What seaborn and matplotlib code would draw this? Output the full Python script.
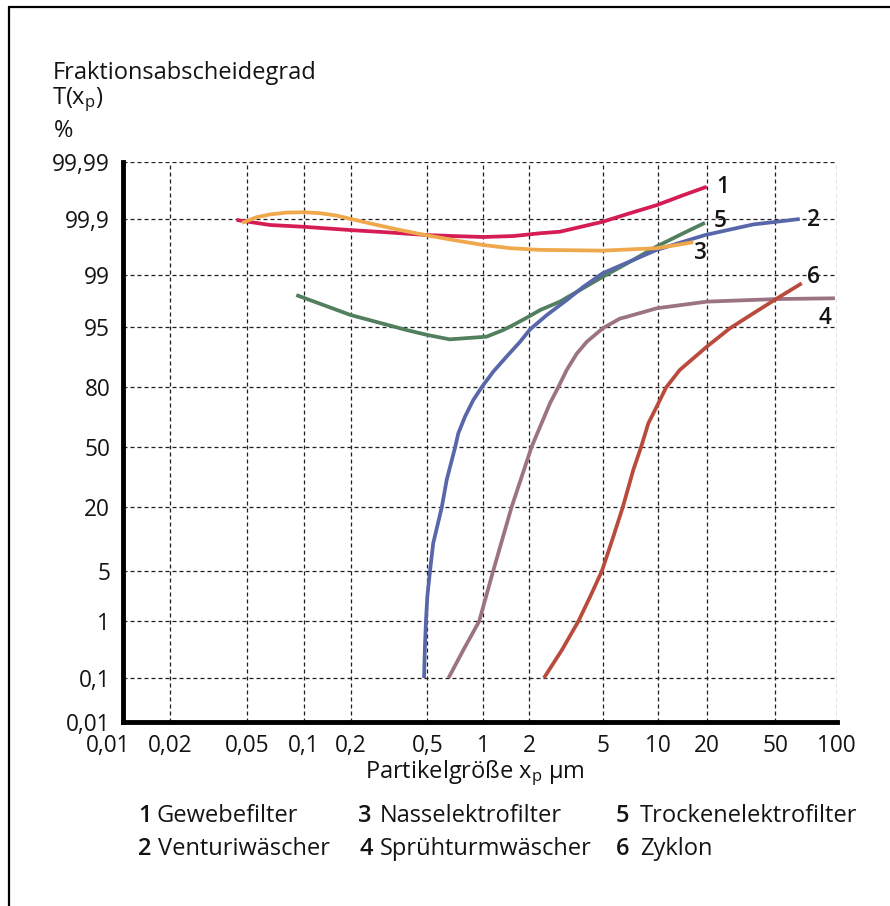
import numpy as np
import pandas as pd
import matplotlib
matplotlib.use("Agg")
import matplotlib.pyplot as plt
import seaborn as sns
from matplotlib.lines import Line2D
from matplotlib.transforms import ScaledTranslation

# ---------------- data ----------------
curve_ids = ["1", "2", "3", "4", "5", "6"]
curve_names = ["Gewebefilter", "Venturiwäscher", "Nasselektrofilter",
               "Sprühturmwäscher", "Trockenelektrofilter", "Zyklon"]

# 1 Gewebefilter
c1_x = [0.044, 0.066, 0.1, 0.2, 0.308, 0.5, 0.69, 1.0, 1.57, 2.29, 2.93, 5.0, 7.03, 9.8, 14.3, 20.0]
c1_y = [99.896, 99.872, 99.862, 99.842, 99.827, 99.806, 99.798, 99.79, 99.798, 99.82, 99.831,
        99.888, 99.921, 99.943, 99.962, 99.973]

# 2 Venturiwäscher
c2_x = [0.481, 0.486, 0.492, 0.5, 0.517, 0.538, 0.598, 0.636, 0.707, 0.734, 0.797, 0.883, 0.98,
        1.163, 1.42, 1.74, 2.02, 2.49, 3.19, 3.93, 5.0, 9.8, 19.5, 37.4, 51, 66]
c2_y = [0.1, 0.36, 1.0, 2.2, 5.0, 9.4, 20, 32, 50, 57.8, 66.8, 74.8, 80,
        85.7, 89.8, 92.8, 94.67, 96.5, 97.8, 98.55, 99.07, 99.643, 99.806, 99.875, 99.888, 99.9]

# 3 Nasselektrofilter
c3_x = [0.047, 0.056, 0.066, 0.081, 0.1, 0.127, 0.162, 0.206, 0.252, 0.347, 0.458, 0.69, 1.0,
        1.5, 2.29, 2.93, 5.0, 9.8, 13.0, 16.5]
c3_y = [99.883, 99.907, 99.917, 99.923, 99.924, 99.921, 99.913, 99.898, 99.88, 99.847, 99.814,
        99.762, 99.708, 99.667, 99.643, 99.64, 99.632, 99.667, 99.708, 99.74]

# 4 Sprühturmwäscher
c4_x = [0.65, 0.78, 0.95, 1.16, 1.53, 2.06, 2.29, 2.59, 2.87, 3.19, 3.62, 4.1, 5.0, 6.2, 6.74,
        9.8, 20, 51, 98]
c4_y = [0.1, 0.31, 1.0, 5.0, 20, 50, 61.5, 73.4, 80, 86.2, 90.5, 92.8, 94.8, 96.1, 96.3,
        97.16, 97.69, 97.87, 97.92]

# 5 Trockenelektrofilter
c5_x = [0.091, 0.2, 0.39, 0.5, 0.66, 1.05, 1.35, 1.57, 1.97, 2.29, 2.93, 5.0, 7.03, 9.8, 14.3, 19.5]
c5_y = [98.12, 96.5, 94.58, 93.89, 93.21, 93.63, 94.58, 95.25, 96.3, 97.0, 97.69, 98.94, 99.42,
        99.69, 99.82, 99.883]

# 6 Zyklon
c6_x = [2.4, 3.0, 3.69, 4.27, 4.95, 5.7, 6.42, 7.32, 8.08, 8.83, 9.8, 11.2, 13.6, 20, 27.3, 37.4, 51, 67.5]
c6_y = [0.1, 0.31, 1.0, 2.2, 5.0, 10.8, 20, 37, 50, 63.3, 71.8, 80, 86.2, 91.9, 94.8, 96.68, 97.9, 98.7]

x_ticks = [0.01, 0.02, 0.05, 0.1, 0.2, 0.5, 1, 2, 5, 10, 20, 50, 100]
x_tick_labels = ["0,01", "0,02", "0,05", "0,1", "0,2", "0,5", "1", "2", "5", "10", "20", "50", "100"]
y_ticks = [0.01, 0.1, 1, 5, 20, 50, 80, 95, 99, 99.9, 99.99]
y_tick_labels = ["0,01", "0,1", "1", "5", "20", "50", "80", "95", "99", "99,9", "99,99"]

# ---------------- scale calibration (grid spacing of the printed paper) ----------------
X_GRID_POS = np.array([0, 47.3, 124.6, 181.3, 228, 304.6, 360.6, 406.6, 480, 535.6, 584, 652.3, 714])
Y_GRID_POS = np.array([0, 43.7, 100.4, 150.7, 214.4, 275, 334.4, 395, 446.7, 502.7, 559.4])
LX = np.log10(np.array(x_ticks, float))
yt = np.array(y_ticks, float)
LY = np.log(yt / (100 - yt))


def xf(v):
    v = np.clip(np.asarray(v, float), 1e-9, None)
    return np.interp(np.log10(v), LX, X_GRID_POS)


def xi(p):
    return 10 ** np.interp(np.asarray(p, float), X_GRID_POS, LX)


def yf(v):
    v = np.clip(np.asarray(v, float), 1e-9, 100 - 1e-9)
    return np.interp(np.log(v / (100 - v)), LY, Y_GRID_POS)


def yi(p):
    l = np.interp(np.asarray(p, float), Y_GRID_POS, LY)
    return 100 / (1 + np.exp(-l))


# ---------------- style ----------------
sns.set_style("white")
FONT = "Open Sans"
plt.rcParams["font.family"] = [FONT, "DejaVu Sans"]
plt.rcParams["mathtext.fontset"] = "custom"
plt.rcParams["mathtext.rm"] = FONT
plt.rcParams["mathtext.it"] = FONT + ":italic"
TXT = "#141414"
FS = 17          # body text
FT = 16.3        # tick labels

W, H = 890, 906
fig = plt.figure(figsize=(W / 100, H / 100), dpi=100)
ax_l, ax_r, ax_t, ax_b = 122.7, 836.7, 162.3, 721.7
ax = fig.add_axes([ax_l / W, 1 - ax_b / H, (ax_r - ax_l) / W, (ax_b - ax_t) / H])
ax.set_xscale("function", functions=(xf, xi))
ax.set_yscale("function", functions=(yf, yi))

palette = {"1": "#D51C55", "2": "#5767AA", "3": "#F0A84C",
           "4": "#9C7383", "5": "#527F5E", "6": "#BA4B3C"}
series = {"1": (c1_x, c1_y), "2": (c2_x, c2_y), "3": (c3_x, c3_y),
          "4": (c4_x, c4_y), "5": (c5_x, c5_y), "6": (c6_x, c6_y)}
order = ["1", "5", "2", "4", "6", "3"]
frames = [pd.DataFrame({"x": series[k][0], "y": series[k][1], "curve": k}) for k in order]
df = pd.concat(frames, ignore_index=True)

sns.lineplot(data=df, x="x", y="y", hue="curve", hue_order=order, palette=palette,
             sort=False, estimator=None, legend=False, linewidth=2.7, ax=ax,
             solid_capstyle="butt", solid_joinstyle="round")

ax.set_xlim(0.01, 100)
ax.set_ylim(0.01, 99.99)
ax.set_xticks(x_ticks)
ax.set_xticklabels(x_tick_labels)
ax.set_yticks(y_ticks)
ax.set_yticklabels(y_tick_labels)
ax.minorticks_off()
ax.set_xlabel("")
ax.set_ylabel("")

ax.grid(True, color="#1e1e1e", linestyle=(0, (3.2, 2.4)), linewidth=0.9)
ax.set_axisbelow(True)
for s in ["top", "right"]:
    ax.spines[s].set_visible(False)
for s in ["left", "bottom"]:
    ax.spines[s].set_linewidth(3.5)
    ax.spines[s].set_color("black")
    ax.spines[s].set_capstyle("projecting")

ax.tick_params(axis="y", length=6, width=3.0, color="black", pad=3.0,
               labelsize=FT, labelcolor=TXT, direction="out")
ax.tick_params(axis="x", length=5.5, width=3.6, color="black", pad=3.0,
               labelsize=FT, labelcolor=TXT, direction="out")
lab0 = ax.get_xticklabels()[0]
lab0.set_transform(lab0.get_transform() + ScaledTranslation(-0.145, 0, fig.dpi_scale_trans))

# curve number labels at curve ends (offsets in points)
label_offsets = {"1": (7.0, 0, "left", "center"), "5": (6.5, 1.5, "left", "center"),
                 "2": (5.5, -1, "left", "center"), "3": (0.5, -8, "left", "center"),
                 "6": (4, 4.5, "left", "center"), "4": (-11.5, -14.5, "left", "center")}
for k in order:
    xs, ys = series[k]
    dx, dy, ha, va = label_offsets[k]
    ax.annotate(k, xy=(xs[-1], ys[-1]), xytext=(dx, dy), textcoords="offset points",
                ha=ha, va=va, fontsize=FT, color=TXT, fontweight="semibold")

# axis titles
fig.text(52.3 / W, 1 - 79 / H, "Fraktionsabscheidegrad", fontsize=FS, color=TXT, va="baseline")
fig.text(52.3 / W, 1 - 104 / H, r"T(x$_\mathrm{p}$)", fontsize=FS, color=TXT, va="baseline")
fig.text(54 / W, 1 - 137 / H, "%", fontsize=FS, color=TXT, va="baseline")
fig.text(475 / W, 1 - 778 / H, r"Partikelgröße x$_\mathrm{p}$ µm", fontsize=FS, color=TXT,
         va="baseline", ha="center")

# key below the chart
num_x = [138.3, 138.3, 358.3, 360, 616, 616]
name_x = [156.7, 157.7, 380, 380, 640, 640]
base_y = [821.7, 855, 821.7, 855, 821.7, 855]
for i, (cid, nm) in enumerate(zip(curve_ids, curve_names)):
    fig.text(num_x[i] / W, 1 - base_y[i] / H, cid, fontsize=FS, color=TXT,
             fontweight="semibold", va="baseline")
    fig.text(name_x[i] / W, 1 - base_y[i] / H, nm, fontsize=FS, color=TXT, va="baseline")

# outer frame (top and left edges visible)
fig.add_artist(Line2D([9 / W, 1.0], [1 - 7 / H, 1 - 7 / H], transform=fig.transFigure,
                      color="black", linewidth=1.6))
fig.add_artist(Line2D([9 / W, 9 / W], [1 - 7 / H, 0.0], transform=fig.transFigure,
                      color="black", linewidth=1.6))

fig.savefig("out.png", dpi=100)
